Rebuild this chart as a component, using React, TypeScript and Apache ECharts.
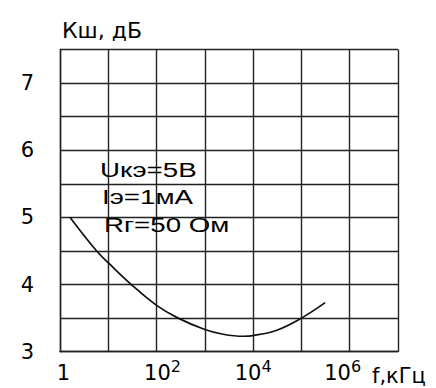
import React, { useEffect, useRef } from "react";
import * as echarts from "echarts";

const freqKHz = [1.62, 5.75, 10.5, 30, 100, 280, 1000, 2400, 6300, 10000, 31000, 100000, 310000];
const noiseDb = [5.0, 4.5, 4.31, 4.0, 3.69, 3.5, 3.33, 3.26, 3.23, 3.24, 3.32, 3.5, 3.73];
const yTicks = [3, 4, 5, 6, 7];
const annotations = ["Uкэ=5В", "Iэ=1мА", "Rг=50 Ом"];
const yName = "Кш, дБ";
const xName = "f,кГц";

export default function App() {
  const ref = useRef<HTMLDivElement>(null);
  useEffect(() => {
    if (!ref.current) return;
    const chart = echarts.init(ref.current, null, { renderer: "svg" });
    const font = "DejaVu Sans";
    chart.setOption({
      animation: false,
      grid: {
        left: 60,
        top: 49.5,
        right: 38,
        bottom: 36.3,
        containLabel: false,
        outerBoundsMode: "none",
      },
      xAxis: {
        type: "log",
        logBase: 10,
        min: 1,
        max: 1e7,
        interval: 1,
        name: xName,
        nameLocation: "end",
        nameGap: -26,
        nameTextStyle: {
          fontFamily: font,
          fontSize: 21,
          color: "#000",
          align: "left",
          verticalAlign: "top",
          padding: [14, 0, 0, 0],
        },
        axisLine: { show: true, lineStyle: { color: "#222", width: 1.4 } },
        axisTick: { show: false },
        splitLine: { show: true, lineStyle: { color: "#222", width: 1.4 } },
        axisLabel: {
          margin: 7,
          color: "#000",
          fontFamily: font,
          fontSize: 21,
          formatter: (v: number) => {
            const e = Math.round(Math.log10(v));
            if (e === 0) return "{one|1}{s0| }";
            if (e % 2 === 1) return "";
            const cls = e === 2 ? "b2" : "b";
            const sup = e === 6 ? "s6" : "s";
            return `{${cls}|10}{${sup}|${e}}`;
          },
          rich: {
            one: { fontFamily: font, fontSize: 21, color: "#000", padding: [0, 0, 0, 12] },
            b: { fontFamily: font, fontSize: 21, color: "#000" },
            b2: { fontFamily: font, fontSize: 21, color: "#000", padding: [0, 0, 0, 12] },
            s0: { fontFamily: font, fontSize: 16, color: "#000", padding: [0, 0, 12, 0] },
            s: { fontFamily: font, fontSize: 16, color: "#000", padding: [0, 0, 12, 0] },
            s6: { fontFamily: font, fontSize: 16, color: "#000", padding: [0, 14, 12, 0] },
          },
        },
      },
      yAxis: {
        type: "value",
        min: 3,
        max: 7.5,
        interval: 0.5,
        name: yName,
        nameLocation: "end",
        nameGap: 8,
        nameTextStyle: { fontFamily: font, fontSize: 22, color: "#000", align: "left", padding: [0, 0, 0, 2] },
        axisLine: { show: true, lineStyle: { color: "#222", width: 1.4 } },
        axisTick: { show: false },
        splitLine: { show: true, lineStyle: { color: "#222", width: 1.4 } },
        axisLabel: {
          margin: 26,
          color: "#000",
          fontFamily: font,
          fontSize: 21,
          formatter: (v: number) => (yTicks.includes(v) ? String(v) : ""),
        },
      },
      graphic: annotations.map((t, i) => ({
        type: "text",
        x: [100, 102, 104][i],
        y: [170, 197, 225][i],
        scaleX: 1.32,
        z: 10,
        style: {
          text: t,
          fontFamily: "Liberation Sans",
          fontSize: 21,
          fill: "#000",
          verticalAlign: "middle",
          align: "left",
        },
      })),
      series: [
        {
          type: "line",
          smooth: 0.4,
          symbol: "none",
          data: freqKHz.map((f, i) => [f, noiseDb[i]]),
          lineStyle: { color: "#111", width: 1.7 },
        },
      ],
    });
    return () => chart.dispose();
  }, []);
  return (
    <div
      ref={ref}
      style={{ position: "fixed", left: 0, top: 0, width: 436, height: 388, background: "#fff" }}
    />
  );
}
